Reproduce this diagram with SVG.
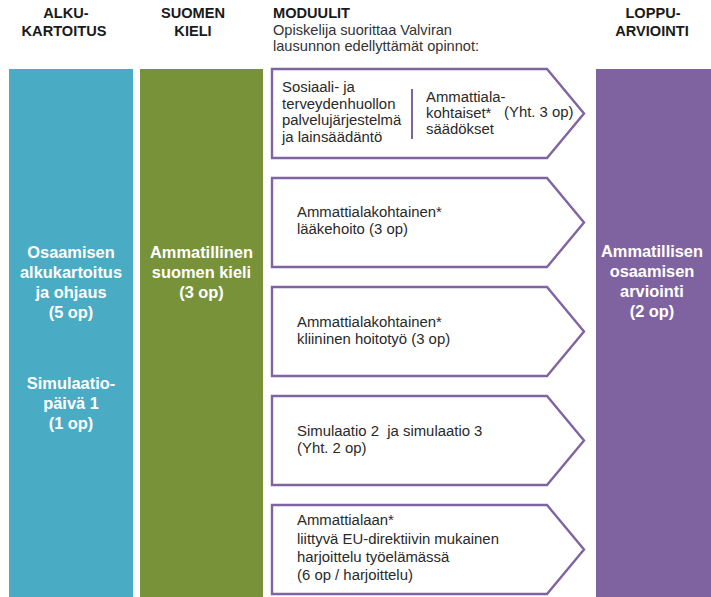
<svg xmlns="http://www.w3.org/2000/svg" width="711" height="597" viewBox="0 0 711 597">
<style>
.hd{font-family:"Liberation Sans",Arial,sans-serif;font-weight:bold;font-size:14.6px;fill:#1a1a1a;text-anchor:middle}
.hl{font-family:"Liberation Sans",Arial,sans-serif;font-weight:bold;font-size:14.6px;fill:#1a1a1a}
.sub{font-family:"Liberation Sans",Arial,sans-serif;font-size:14.6px;fill:#333}
.bw{font-family:"Liberation Sans",Arial,sans-serif;font-weight:bold;font-size:16.4px;fill:#fff;text-anchor:middle}
.t{font-family:"Liberation Sans",Arial,sans-serif;font-size:14.9px;fill:#2a2a2a}
.arr{fill:#fff;stroke:#8064a2;stroke-width:2.4}
</style>
<rect width="711" height="597" fill="#fff"/>
<g id="headers">
<text class="hd" x="66" y="18">ALKU-</text>
<text class="hd" x="64" y="36">KARTOITUS</text>
<text class="hd" x="193" y="18">SUOMEN</text>
<text class="hd" x="193" y="36">KIELI</text>
<text class="hl" x="273" y="18">MODUULIT</text>
<text class="sub" x="273" y="35">Opiskelija suorittaa Valviran</text>
<text class="sub" x="273" y="51">lausunnon edellyttämät opinnot:</text>
<text class="hd" x="653" y="18">LOPPU-</text>
<text class="hd" x="652" y="36">ARVIOINTI</text>
</g>
<g id="alkukartoitus">
<rect x="9" y="69" width="124" height="528" fill="#4aabc5"/>
<text class="bw" x="71" y="258">Osaamisen</text>
<text class="bw" x="71" y="278">alkukartoitus</text>
<text class="bw" x="71" y="298">ja ohjaus</text>
<text class="bw" x="71" y="318">(5 op)</text>
<text class="bw" x="71" y="389">Simulaatio-</text>
<text class="bw" x="71" y="409">päivä 1</text>
<text class="bw" x="71" y="429">(1 op)</text>
</g>
<g id="suomen-kieli">
<rect x="140" y="69" width="123" height="528" fill="#78923a"/>
<text class="bw" x="201.5" y="258">Ammatillinen</text>
<text class="bw" x="201.5" y="278">suomen kieli</text>
<text class="bw" x="201.5" y="298">(3 op)</text>
</g>
<g id="loppuarviointi">
<rect x="596" y="69" width="115" height="528" fill="#7f63a1"/>
<text class="bw" x="652" y="257">Ammatillisen</text>
<text class="bw" x="652" y="277">osaamisen</text>
<text class="bw" x="652" y="297">arviointi</text>
<text class="bw" x="652" y="317">(2 op)</text>
</g>
<g id="modul-1">
<polygon class="arr" points="272,69 547,69 584,113.5 547,158 272,158"/>
<text class="t" x="282" y="92">Sosiaali- ja</text>
<text class="t" x="282" y="108.5">terveydenhuollon</text>
<text class="t" x="282" y="125">palvelujärjestelmä</text>
<text class="t" x="282" y="141.5">ja lainsäädäntö</text>
<line x1="412" y1="89" x2="412" y2="139" stroke="#8064a2" stroke-width="2"/>
<text class="t" x="426" y="102">Ammattiala-</text>
<text class="t" x="426" y="118">kohtaiset*</text>
<text class="t" x="426" y="134">säädökset</text>
<text class="t" x="504" y="117">(Yht. 3 op)</text>
</g>
<g id="modul-2">
<polygon class="arr" points="272,178 547,178 584,222.5 547,267 272,267"/>
<text class="t" x="297" y="217">Ammattialakohtainen*</text>
<text class="t" x="297" y="233.5">lääkehoito (3 op)</text>
</g>
<g id="modul-3">
<polygon class="arr" points="272,287 547,287 584,331.5 547,376 272,376"/>
<text class="t" x="297" y="327">Ammattialakohtainen*</text>
<text class="t" x="297" y="343.5">kliininen hoitotyö (3 op)</text>
</g>
<g id="modul-4">
<polygon class="arr" points="272,396 547,396 584,440.5 547,485 272,485"/>
<text class="t" x="297" y="436">Simulaatio 2&#160; ja simulaatio 3</text>
<text class="t" x="297" y="452.5">(Yht. 2 op)</text>
</g>
<g id="modul-5">
<polygon class="arr" points="272,505 547,505 584,549.5 547,594 272,594"/>
<text class="t" x="297" y="525">Ammattialaan*</text>
<text class="t" x="297" y="543.5">liittyvä EU-direktiivin mukainen</text>
<text class="t" x="297" y="561.5">harjoittelu työelämässä</text>
<text class="t" x="297" y="579.5">(6 op / harjoittelu)</text>
</g>
<g id="connectors"></g>
</svg>
